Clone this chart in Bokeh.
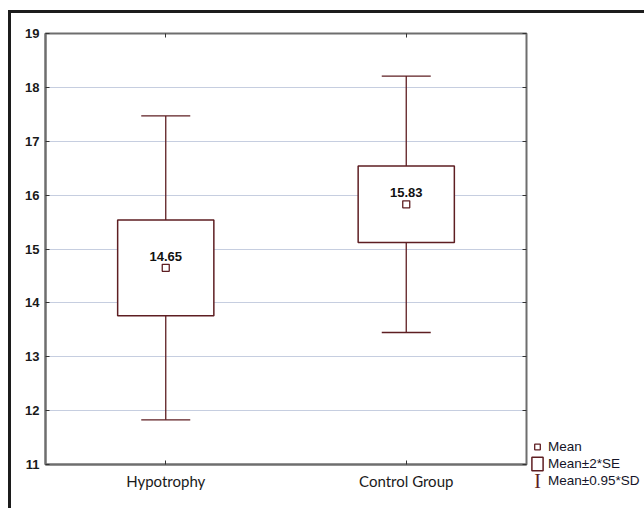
from bokeh.plotting import figure
from bokeh.layouts import row
from bokeh.models import (ColumnDataSource, Whisker, TeeHead, FixedTicker, LinearAxis,
                          Legend, LegendItem, Label, LabelSet, Range1d)
from bokeh.core.properties import value
from bokeh.embed import file_html
from bokeh.resources import INLINE

groups = ["Hypotrophy", "Control Group"]
means = [14.65, 15.83]
se2_low = [13.76, 15.12]
se2_high = [15.54, 16.54]
sd_low = [11.83, 13.45]
sd_high = [17.47, 18.21]
y_ticks = [11, 12, 13, 14, 15, 16, 17, 18, 19]
legend_labels = ["Mean", "Mean\u00b12*SE", "Mean\u00b10.95*SD"]

MAROON = "#5e1e22"
xs = list(range(len(groups)))
src = ColumnDataSource(dict(x=xs, mean=means, lo=se2_low, hi=se2_high,
                            sdl=sd_low, sdh=sd_high,
                            lab=["%.2f" % m for m in means]))

p = figure(width=519, height=495, output_backend="svg", toolbar_location=None,
           x_range=Range1d(-0.5, 1.5), y_range=Range1d(11, 19),
           min_border_left=34, min_border_top=20, min_border_right=4, min_border_bottom=44)
p.frame_align = False
p.background_fill_color = "white"
p.border_fill_color = "white"
p.outline_line_color = "#6e6e6e"
p.outline_line_width = 2

p.xgrid.visible = False
p.ygrid.ticker = FixedTicker(ticks=y_ticks)
p.ygrid.grid_line_color = "#8c9cc0"
p.ygrid.grid_line_dash = "1 1"
p.ygrid.grid_line_width = 1

for ax in p.yaxis:
    ax.ticker = FixedTicker(ticks=y_ticks)
    ax.major_label_text_font = "Liberation Sans"
    ax.major_label_text_font_style = "bold"
    ax.major_label_text_font_size = "13px"
    ax.major_label_text_color = "#1a1a1a"
    ax.major_label_standoff = 6
for ax in p.xaxis:
    ax.ticker = FixedTicker(ticks=xs)
    ax.major_label_overrides = {i: g for i, g in enumerate(groups)}
    ax.major_label_text_font = "Lato"
    ax.major_label_text_font_size = "15px"
    ax.major_label_text_color = "#1a1a1a"
    ax.major_label_standoff = 7
for ax in list(p.xaxis) + list(p.yaxis):
    ax.axis_line_color = "#6e6e6e"
    ax.axis_line_width = 2
    ax.major_tick_in = 4
    ax.major_tick_out = 0
    ax.major_tick_line_color = "#333333"
    ax.minor_tick_line_color = None

top_ax = LinearAxis(ticker=FixedTicker(ticks=xs),
                    major_label_overrides={i: "" for i in xs},
                    major_label_standoff=0, axis_line_color=None, major_tick_in=4,
                    major_tick_out=0, minor_tick_line_color=None,
                    major_tick_line_color="#333333")
right_ax = LinearAxis(ticker=FixedTicker(ticks=y_ticks),
                      major_label_overrides={t: "" for t in y_ticks},
                      major_label_standoff=0, axis_line_color=None, major_tick_in=4,
                      major_tick_out=0, minor_tick_line_color=None,
                      major_tick_line_color="#333333")
p.add_layout(top_ax, "above")
p.add_layout(right_ax, "right")

wh = Whisker(source=src, base="x", lower="sdl", upper="sdh",
             line_color=MAROON, line_width=1.3, level="underlay",
             lower_head=TeeHead(size=49, line_color=MAROON, line_width=1.3),
             upper_head=TeeHead(size=49, line_color=MAROON, line_width=1.3))
p.add_layout(wh)

box = p.vbar(x="x", width=0.4, bottom="lo", top="hi", source=src,
             fill_color="white", line_color=MAROON, line_width=1.5)
p.scatter(x="x", y="mean", source=src, marker="square", size=7,
          fill_color="white", line_color=MAROON, line_width=1.3)
p.add_layout(LabelSet(x="x", y="mean", text="lab", source=src, text_align="center",
                      text_baseline="alphabetic", y_offset=7,
                      text_font=value("Liberation Sans"), text_font_style="bold",
                      text_font_size="13px", text_color="#111111"))

# legend panel to the right of the plot
lg = figure(width=114, height=495, output_backend="svg", toolbar_location=None,
            x_range=Range1d(0, 1), y_range=Range1d(0, 1),
            x_axis_type=None, y_axis_type=None,
            min_border_left=0, min_border_right=0, min_border_top=0, min_border_bottom=0)
lg.frame_align = False
lg.outline_line_color = None
lg.grid.visible = False
nan = [float("nan")]
r_mean = lg.scatter(x=nan, y=nan, marker="square", size=7, fill_color="white",
                    line_color=MAROON, line_width=1.3)
r_box = lg.quad(left=nan, right=nan, bottom=nan, top=nan, fill_color="white",
                line_color=MAROON, line_width=1.5)
r_sd = lg.scatter(x=nan, y=nan, marker="square", size=1, fill_alpha=0, line_alpha=0)

legend = Legend(items=[LegendItem(label=legend_labels[0], renderers=[r_mean]),
                       LegendItem(label=legend_labels[1], renderers=[r_box]),
                       LegendItem(label=legend_labels[2], renderers=[r_sd])],
                location=(0, 19), orientation="vertical",
                glyph_width=14, glyph_height=17, label_height=17, label_standoff=4,
                spacing=0, padding=0, margin=0, border_line_color=None,
                background_fill_alpha=0, label_text_font="Liberation Sans",
                label_text_font_size="13.5px", label_text_color="#141428")
lg.add_layout(legend)
lg.add_layout(Label(x=7, y=28, x_units="screen", y_units="screen", text="I",
                    text_font="Liberation Serif", text_font_size="20px",
                    text_color=MAROON, text_align="center", text_baseline="middle"))

layout = row(p, lg, spacing=0)
layout.styles = {"margin-left": "8px", "margin-top": "10px",
                 "border-top": "3px solid #1c1c1c", "border-left": "3px solid #1c1c1c"}

open("out.html", "w").write(file_html(layout, INLINE))
